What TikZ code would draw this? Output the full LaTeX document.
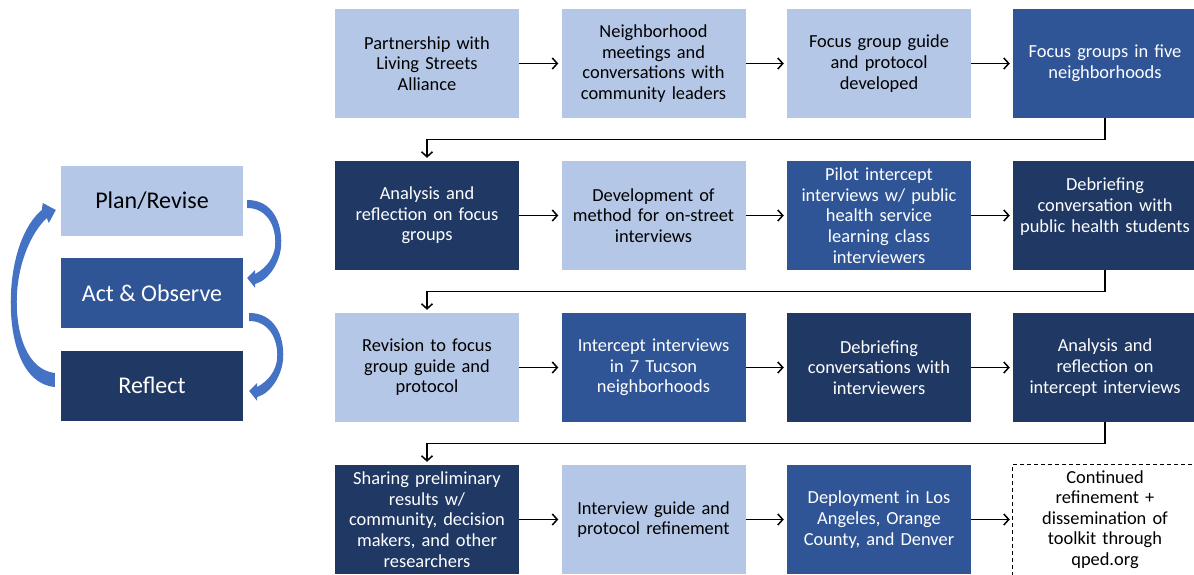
\documentclass[tikz,border=0pt]{standalone}
\usepackage{fontspec}
\setmainfont{Carlito}
\usetikzlibrary{arrows.meta}

\definecolor{lightblue}{HTML}{B4C7E7}
\definecolor{midblue}{HTML}{2F5597}
\definecolor{darkblue}{HTML}{203864}
\definecolor{cyclearrow}{HTML}{4472C4}

\begin{document}
\begin{tikzpicture}[x=1pt,y=-1pt,
  stepbox/.style={minimum width=184pt, minimum height=109pt, text width=178pt,
    align=center, inner sep=0pt, font=\fontsize{18.4}{20.6}\selectfont},
  lightbox/.style={stepbox, fill=lightblue, text=black},
  midbox/.style={stepbox, fill=midblue, text=white},
  darkbox/.style={stepbox, fill=darkblue, text=white},
  openbox/.style={stepbox, text=black},
  openedge/.style={draw=black, line width=1.1pt, dash pattern=on 4pt off 3pt},
  flow/.style={line width=1.5pt, -{Straight Barb[length=5pt,width=11pt]}, shorten >=3pt},
  cyclebox/.style={minimum width=182pt, minimum height=70pt, inner sep=0pt,
    font=\fontsize{24}{28}\selectfont},
  rightbend/.pic={
    \fill[cyclearrow] (0,0) .. controls (25,0) and (35,22) .. (34,45)
      .. controls (33,62) and (22,80) .. (8,84) -- (8,88) -- (0,78) -- (8,70) -- (8,74)
      .. controls (19,68) and (27,58) .. (28,45)
      .. controls (29,25) and (19,8) .. (0,8) -- cycle;
  }
]
\useasboundingbox (0,0) rectangle (1194,575);

% Action research cycle
\node[cyclebox, fill=lightblue, text=black] (plan) at (152,200.5) {Plan/Revise};
\node[cyclebox, fill=midblue, text=white] (act) at (152,293) {Act \& Observe};
\node[cyclebox, fill=darkblue, text=white] (reflect) at (152,385.5) {Reflect};

\pic at ([shift={(4,-0.5)}]plan.east) {rightbend};
\pic at ([shift={(6,20)}]act.east) {rightbend};

\begin{scope}[shift={(reflect.west)}]
  \fill[cyclearrow] (-6,1.5) .. controls (-39,-1.5) and (-51,-45.5) .. (-50,-87.5)
    .. controls (-49,-127.5) and (-37,-160.5) .. (-19,-175.5)
    -- (-18,-182.5) -- (-5,-175.5) -- (-12,-162.5) -- (-14,-167.5)
    .. controls (-29,-153.5) and (-43,-123.5) .. (-44,-87.5)
    .. controls (-45,-50.5) and (-33,-15.5) .. (-6,-12.5) -- cycle;
\end{scope}

% Row 1
\node[lightbox] (r1c1) at (427,63.5) {Partnership with\\Living Streets\\Alliance};
\node[lightbox] (r1c2) at (653.5,63.5) {Neighborhood\\meetings and\\conversations with\\community leaders};
\node[lightbox] (r1c3) at (879,63.5) {Focus group guide\\and protocol\\developed};
\node[midbox] (r1c4) at (1105,63.5) {Focus groups in five\\neighborhoods};

% Row 2
\node[darkbox] (r2c1) at (427,215.5) {Analysis and\\reflection on focus\\groups};
\node[lightbox] (r2c2) at (653.5,215.5) {Development of\\method for on-street\\interviews};
\node[midbox] (r2c3) at (879,215.5) {Pilot intercept\\interviews w/ public\\health service\\learning class\\interviewers};
\node[darkbox] (r2c4) at (1105,215.5) {Debriefing\\conversation with\\public health students\\[-6pt]\strut};

% Row 3
\node[lightbox] (r3c1) at (427,367.5) {Revision to focus\\group guide and\\protocol};
\node[midbox] (r3c2) at (653.5,367.5) {Intercept interviews\\in 7 Tucson\\neighborhoods};
\node[darkbox] (r3c3) at (879,367.5) {Debriefing\\conversations with\\interviewers};
\node[darkbox] (r3c4) at (1105,367.5) {Analysis and\\reflection on\\intercept interviews};

% Row 4
\node[darkbox] (r4c1) at (427,519.5) {Sharing preliminary\\results w/\\community, decision\\makers, and other\\researchers};
\node[lightbox] (r4c2) at (653.5,519.5) {Interview guide and\\protocol refinement};
\node[midbox] (r4c3) at (879,519.5) {Deployment in Los\\Angeles, Orange\\County, and Denver};
\node[openbox] (r4c4) at (1105,519.5) {Continued\\refinement +\\dissemination of\\toolkit through\\qped.org};
% the open-ended box runs past the page on the right and bottom
\draw[openedge] ([xshift=30pt]r4c4.north east) -- (r4c4.north west) -- ([yshift=-30pt]r4c4.south west);

% Flow within rows
\foreach \r in {1,2,3,4}{
  \draw[flow] (r\r c1.east) -- (r\r c2.west);
  \draw[flow] (r\r c2.east) -- (r\r c3.west);
  \draw[flow] (r\r c3.east) -- (r\r c4.west);
}

% Flow between rows
\draw[flow] (r1c4.south) -- ++(0,21.5) -| (r2c1.north);
\draw[flow] (r2c4.south) -- ++(0,21.5) -| (r3c1.north);
\draw[flow] (r3c4.south) -- ++(0,21.5) -| (r4c1.north);
\end{tikzpicture}
\end{document}
